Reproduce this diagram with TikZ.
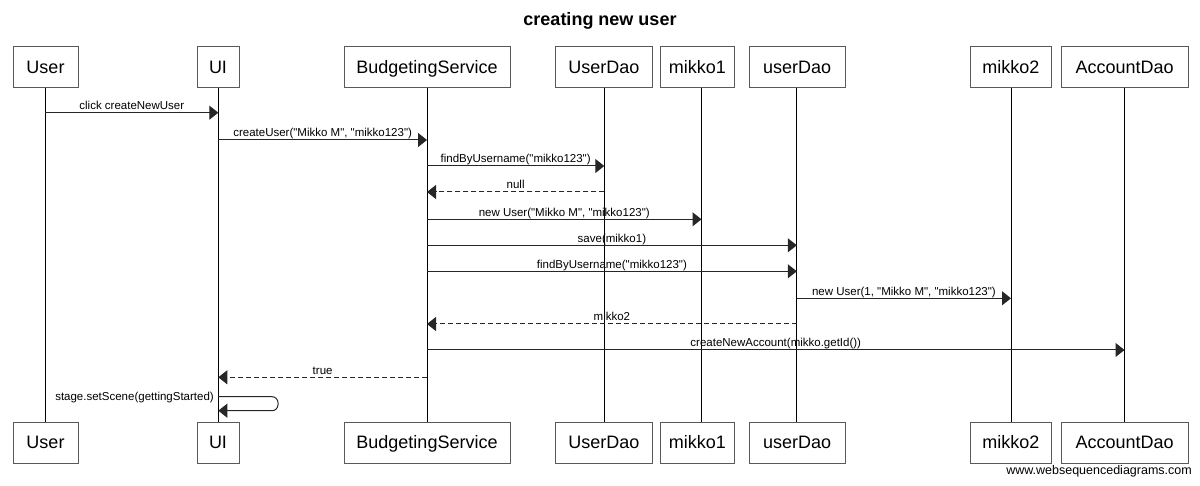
\documentclass[tikz,border=0pt]{standalone}
\usepackage{fontspec}
\setmainfont{Liberation Sans}
\newfontfamily\wsdfont{Liberation Sans}
\usetikzlibrary{arrows.meta}
\begin{document}
\begin{tikzpicture}[x=1pt,y=-1pt,
  box/.style={draw=black!65, line width=1pt, fill=white, minimum height=41pt, inner sep=0pt,
    font=\wsdfont\fontsize{18}{20}\selectfont, text height=12.9pt, text depth=0pt},
  life/.style={draw=black, line width=1pt},
  msg/.style={draw=black!85, line width=1pt, -{Triangle[length=9pt,width=14pt]}},
  ret/.style={msg, dash pattern=on 5pt off 3pt},
  lbl/.style={font=\wsdfont\fontsize{11.5}{13}\selectfont, inner sep=0pt, anchor=base, yshift=3pt}]
\useasboundingbox (0,0) rectangle (1200,486);

% title
\node[font=\wsdfont\fontsize{18}{20}\selectfont\bfseries, inner sep=0pt, anchor=base] (title) at (600,25.5) {creating new user};

% lifeline x positions
\coordinate (lUser) at (45.3,0);
\coordinate (lUI) at (218.3,0);
\coordinate (lBS) at (427,0);
\coordinate (lUD) at (604.3,0);
\coordinate (lM1) at (701.5,0);
\coordinate (lud) at (796.8,0);
\coordinate (lM2) at (1011,0);
\coordinate (lAD) at (1124.5,0);

% boxes top
\node[box,minimum width=65pt]  (UserT) at (45.5,66.7) {User};
\node[box,minimum width=42pt]  (UIT)   at (218,66.7) {UI};
\node[box,minimum width=166pt] (BST)   at (427,66.7) {BudgetingService};
\node[box,minimum width=96.6pt] (UDT)  at (604,66.7) {UserDao};
\node[box,minimum width=73.3pt] (M1T)  at (697.4,66.7) {mikko1};
\node[box,minimum width=95.7pt] (udT)  at (797.2,66.7) {userDao};
\node[box,minimum width=81.7pt] (M2T)  at (1010.9,66.7) {mikko2};
\node[box,minimum width=127.3pt] (ADT) at (1124.7,66.7) {AccountDao};
% boxes bottom
\node[box,minimum width=65pt]  (UserB) at (45.5,442.5) {User};
\node[box,minimum width=42pt]  (UIB)   at (218,442.5) {UI};
\node[box,minimum width=166pt] (BSB)   at (427,442.5) {BudgetingService};
\node[box,minimum width=96.6pt] (UDB)  at (604,442.5) {UserDao};
\node[box,minimum width=73.3pt] (M1B)  at (697.4,442.5) {mikko1};
\node[box,minimum width=95.7pt] (udB)  at (797.2,442.5) {userDao};
\node[box,minimum width=81.7pt] (M2B)  at (1010.9,442.5) {mikko2};
\node[box,minimum width=127.3pt] (ADB) at (1124.7,442.5) {AccountDao};

% lifelines
\draw[life] (lUser |- UserT.south) -- (lUser |- UserB.north);
\draw[life] (lUI |- UIT.south) -- (lUI |- UIB.north);
\draw[life] (lBS |- BST.south) -- (lBS |- BSB.north);
\draw[life] (lUD |- UDT.south) -- (lUD |- UDB.north);
\draw[life] (lM1 |- M1T.south) -- (lM1 |- M1B.north);
\draw[life] (lud |- udT.south) -- (lud |- udB.north);
\draw[life] (lM2 |- M2T.south) -- (lM2 |- M2B.north);
\draw[life] (lAD |- ADT.south) -- (lAD |- ADB.north);

% messages
\draw[msg] (lUser |- 0,112.7) -- node[lbl]{click createNewUser} (lUI |- 0,112.7);
\draw[msg] (lUI |- 0,140) -- node[lbl]{createUser("Mikko M", "mikko123")} (lBS |- 0,140);
\draw[msg] (lBS |- 0,166) -- node[lbl]{findByUsername("mikko123")} (lUD |- 0,166);
\draw[ret] (lUD |- 0,192) -- node[lbl]{null} (lBS |- 0,192);
\draw[msg] (lBS |- 0,219.3) -- node[lbl]{new User("Mikko M", "mikko123")} (lM1 |- 0,219.3);
\draw[msg] (lBS |- 0,245.3) -- node[lbl]{save(mikko1)} (lud |- 0,245.3);
\draw[msg] (lBS |- 0,271.3) -- node[lbl]{findByUsername("mikko123")} (lud |- 0,271.3);
\draw[msg] (lud |- 0,298.3) -- node[lbl]{new User(1, "Mikko M", "mikko123")} (lM2 |- 0,298.3);
\draw[ret] (lud |- 0,324) -- node[lbl]{mikko2} (lBS |- 0,324);
\draw[msg] (lBS |- 0,350) -- node[lbl]{createNewAccount(mikko.getId())} (lAD |- 0,350);
\draw[ret] (lBS |- 0,377.3) -- node[lbl]{true} (lUI |- 0,377.3);

% self message
\coordinate (selfA) at (278,396.7);
\coordinate (selfB) at (278,410.7);
\draw[msg, rounded corners=6pt] (lUI |- 0,396.7) -- (selfA) -- (selfB) -- (lUI |- 0,410.7);
\node[font=\wsdfont\fontsize{11.5}{13}\selectfont, inner sep=0pt, anchor=base east] (selflbl) at (214,400.5) {stage.setScene(gettingStarted)};

% watermark
\node[font=\wsdfont\fontsize{12.5}{14}\selectfont, inner sep=0pt, anchor=base east] (wm) at (1192,474) {www.websequencediagrams.com};
\end{tikzpicture}
\end{document}
